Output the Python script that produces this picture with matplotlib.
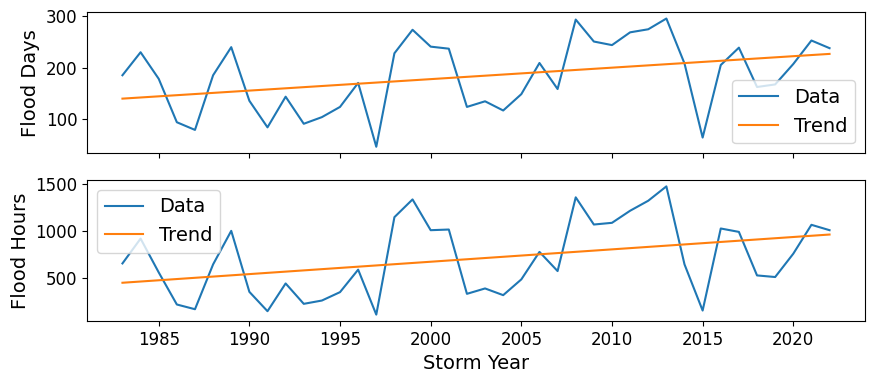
import matplotlib
matplotlib.use('Agg')
import matplotlib.pyplot as plt
import numpy as np

years = list(range(1983, 2023))

flood_days = [185, 230, 178, 93, 78, 185, 240, 135, 83, 143,
              90, 103, 123, 170, 45, 228, 274, 241, 237, 123,
              134, 116, 148, 209, 158, 294, 251, 244, 269, 275,
              296, 208, 63, 205, 239, 162, 167, 207, 253, 238]

flood_hours = [655, 918, 560, 220, 170, 645, 1000, 354, 149, 443,
               227, 262, 351, 589, 113, 1145, 1333, 1007, 1014, 333,
               390, 319, 486, 777, 574, 1355, 1067, 1085, 1213, 1319,
               1471, 645, 156, 1025, 989, 528, 511, 758, 1064, 1007]


def trend(x, y):
    p = np.polyfit(x, y, 1)
    return np.polyval(p, x)


def main():
    plt.rcParams['font.size'] = 12
    fig, (ax1, ax2) = plt.subplots(2, 1, sharex=True, figsize=(8.71, 3.79), dpi=100)
    fig.subplots_adjust(left=0.1, right=0.993, top=0.968, bottom=0.153, hspace=0.19)

    x = np.array(years)

    ax1.plot(x, flood_days, label='Data')
    ax1.plot(x, trend(x, flood_days), label='Trend')
    ax1.set_ylabel('Flood Days', fontsize=14)
    ax1.legend(loc='lower right', fontsize=14)

    ax2.plot(x, flood_hours, label='Data')
    ax2.plot(x, trend(x, flood_hours), label='Trend')
    ax2.set_ylabel('Flood Hours', fontsize=14)
    ax2.set_xlabel('Storm Year', fontsize=14)
    ax2.legend(loc='upper left', fontsize=14)

    plt.savefig('out.png')
    plt.close()


if __name__ == '__main__':
    main()
